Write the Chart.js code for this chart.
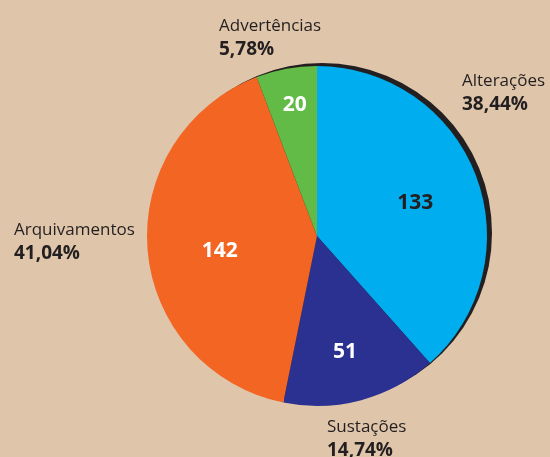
<!DOCTYPE html>
<html>
<head>
<meta charset="utf-8">
<script src="https://cdn.jsdelivr.net/npm/chart.js@4/dist/chart.umd.min.js"></script>
<style>
  html, body { margin: 0; padding: 0; background: #dfc5aa; }
  #wrap { width: 550px; height: 457px; }
</style>
</head>
<body>
<div id="wrap"><canvas id="pie" width="550" height="457"></canvas></div>
<script>
// data
var categories = ['Alterações', 'Sustações', 'Arquivamentos', 'Advertências'];
var counts = [133, 51, 142, 20];
var percentLabels = ['38,44%', '14,74%', '41,04%', '5,78%'];
var sliceColors = ['#00aeef', '#2b3190', '#f26522', '#62bb46'];
var numberColors = ['#231f20', '#ffffff', '#ffffff', '#ffffff'];

// where the outside captions sit (left x, baseline of first line)
var captionPos = [[462, 86], [327, 432], [14, 235], [219, 31]];
// where the numbers sit inside the slices, as radius fraction + small nudge
var innerPos = [[0.6, 3, 3], [0.68, -2, 4], [0.58, 1, 7], [0.79, 2, 1]];

var ink = '#231f20';

var shadowPlugin = {
  id: 'shadowRing',
  beforeDatasetsDraw: function (chart) {
    var arc = chart.getDatasetMeta(0).data[0];
    if (!arc) return;
    var c = chart.ctx;
    c.save();
    c.fillStyle = ink;
    c.beginPath();
    c.arc(arc.x + 5, arc.y - 3, arc.outerRadius, 0, Math.PI * 2);
    c.fill();
    c.restore();
  }
};

var labelPlugin = {
  id: 'sliceLabels',
  afterDatasetsDraw: function (chart) {
    var c = chart.ctx;
    var meta = chart.getDatasetMeta(0);
    c.save();
    meta.data.forEach(function (arc, i) {
      var mid = (arc.startAngle + arc.endAngle) / 2;
      var f = innerPos[i];
      var x = arc.x + Math.cos(mid) * arc.outerRadius * f[0] + f[1];
      var y = arc.y + Math.sin(mid) * arc.outerRadius * f[0] + f[2];
      c.font = 'bold 21px "Open Sans"';
      c.fillStyle = numberColors[i];
      c.textAlign = 'center';
      c.textBaseline = 'middle';
      c.fillText(counts[i], x, y);

      var p = captionPos[i];
      c.textAlign = 'left';
      c.textBaseline = 'alphabetic';
      c.fillStyle = ink;
      c.font = '17px "Open Sans"';
      c.fillText(categories[i], p[0], p[1]);
      c.font = 'bold 19px "Open Sans"';
      c.fillText(percentLabels[i], p[0], p[1] + 24);
    });
    c.restore();
  }
};

new Chart(document.getElementById('pie'), {
  type: 'pie',
  data: {
    labels: categories,
    datasets: [{
      data: counts,
      backgroundColor: sliceColors,
      borderWidth: 0
    }]
  },
  options: {
    responsive: false,
    animation: false,
    layout: { padding: { left: 147, right: 63, top: 66, bottom: 51 } },
    plugins: {
      legend: { display: false },
      tooltip: { enabled: false }
    }
  },
  plugins: [shadowPlugin, labelPlugin]
});
</script>
</body>
</html>
